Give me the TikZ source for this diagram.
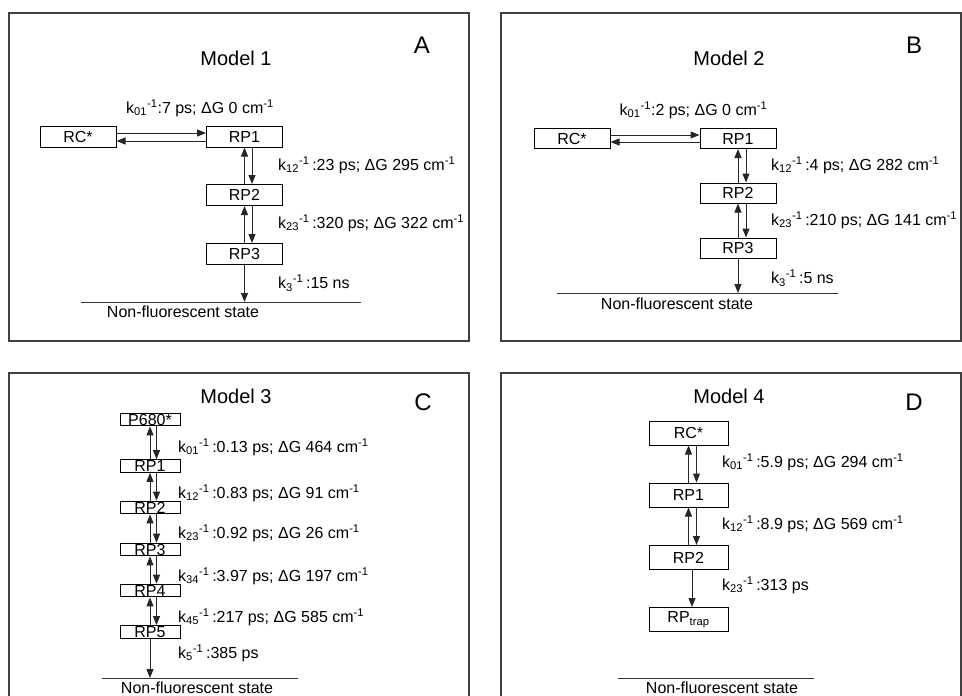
\documentclass[tikz,border=0pt]{standalone}
\usepackage{fontspec}
\setmainfont{Liberation Sans}
\usetikzlibrary{arrows.meta, positioning}

\newcommand{\lbl}{\fontsize{16}{19}\selectfont}
\newcommand{\ttl}{\fontsize{20}{24}\selectfont}
\newcommand{\ltr}{\fontsize{24}{28}\selectfont}
\newcommand{\krate}[1]{k\textsubscript{#1}\textsuperscript{-1}}

\tikzset{
	panel/.style={draw=black!75, line width=1.4pt},
	state/.style={draw, line width=1pt, minimum width=76pt, minimum height=20pt, inner sep=0pt, font=\lbl},
	bigstate/.style={state, minimum width=79pt, minimum height=24pt},
	smallstate/.style={draw, line width=1pt, minimum width=60pt, inner xsep=0pt, inner ysep=0.6pt, text height=11.5pt, text depth=0pt, font=\lbl},
	rate/.style={anchor=west, inner sep=0pt, font=\lbl},
	arr/.style={-{Triangle[length=9pt,width=7pt]}, line width=1pt, black!85},
	baseline/.style={line width=1pt, black!80},
	nftext/.style={font=\lbl, inner sep=0pt},
	title/.style={font=\ttl},
	letter/.style={font=\ltr},
}

\begin{document}
\begin{tikzpicture}[x=1pt, y=-1pt]
	\useasboundingbox (0,0) rectangle (962,696);
	
	% A: Model 1
	\draw[panel] (9,13) rectangle (469,341);
	\node[letter] (labA) at (422,45) {A};
	\node[title] (titA) at (236,58) {Model 1};
	\node[rate, anchor=center] (ak01) at (200,108) {\krate{01}:7 ps; ΔG 0 cm\textsuperscript{-1}};
	\node[state, minimum height=21pt] (aRC) at (78,136.5) {RC*};
	\node[state, minimum height=21pt] (aRP1) at (244.5,136.5) {RP1};
	\node[state, minimum height=21pt] (aRP2) at (244.5,195) {RP2};
	\node[state, minimum height=21pt] (aRP3) at (244.5,254) {RP3};
	\draw[arr] ([yshift=3.5pt]aRC.east) -- ([yshift=3.5pt]aRP1.west);
	\draw[arr] ([yshift=-4.5pt]aRP1.west) -- ([yshift=-4.5pt]aRC.east);
	\draw[arr] (aRP2.north) -- (aRP1.south);
	\draw[arr] ([xshift=7.5pt]aRP1.south) -- ([xshift=7.5pt]aRP2.north);
	\draw[arr] (aRP3.north) -- (aRP2.south);
	\draw[arr] ([xshift=7.5pt]aRP2.south) -- ([xshift=7.5pt]aRP3.north);
	\node[rate] (ak12) at (278,165) {\krate{12}\,:23 ps; ΔG 295 cm\textsuperscript{-1}};
	\node[rate] (ak23) at (278,223) {\krate{23}\,:320 ps; ΔG 322 cm\textsuperscript{-1}};
	\node[rate] (ak3) at (278,283) {\krate{3}\,:15 ns};
	\coordinate (aNF) at (244.5,302);
	\draw[arr] (aRP3.south) -- (aNF);
	\draw[baseline] (81,302) -- (361,302);
	\node[nftext] (aNFt) at (183,312) {Non-fluorescent state};
	
	% B: Model 2
	\draw[panel] (501,13) rectangle (961,341);
	\node[letter] (labB) at (914,45) {B};
	\node[title] (titB) at (729,58) {Model 2};
	\node[rate, anchor=center] (bk01) at (693.5,110) {\krate{01}:2 ps; ΔG 0 cm\textsuperscript{-1}};
	\node[state] (bRC) at (572,138.5) {RC*};
	\node[state] (bRP1) at (738,138.5) {RP1};
	\node[state] (bRP2) at (738,193) {RP2};
	\node[state] (bRP3) at (738,248) {RP3};
	\draw[arr] ([yshift=3.5pt]bRC.east) -- ([yshift=3.5pt]bRP1.west);
	\draw[arr] ([yshift=-3.5pt]bRP1.west) -- ([yshift=-3.5pt]bRC.east);
	\draw[arr] (bRP2.north) -- (bRP1.south);
	\draw[arr] ([xshift=8pt]bRP1.south) -- ([xshift=8pt]bRP2.north);
	\draw[arr] (bRP3.north) -- (bRP2.south);
	\draw[arr] ([xshift=8pt]bRP2.south) -- ([xshift=8pt]bRP3.north);
	\node[rate] (bk12) at (771,165) {\krate{12}\,:4 ps; ΔG 282 cm\textsuperscript{-1}};
	\node[rate] (bk23) at (771,220) {\krate{23}\,:210 ps; ΔG 141 cm\textsuperscript{-1}};
	\node[rate] (bk3) at (771,278) {\krate{3}\,:5 ns};
	\coordinate (bNF) at (738,293);
	\draw[arr] (bRP3.south) -- (bNF);
	\draw[baseline] (557,293) -- (838,293);
	\node[nftext] (bNFt) at (677,304) {Non-fluorescent state};
	
	% C: Model 3
	\draw[panel] (9,697) -- (9,373) -- (469,373) -- (469,697);
	\node[letter] (labC) at (423,402) {C};
	\node[title] (titC) at (236,396) {Model 3};
	\node[smallstate] (cP) at (150,419.5) {P680*};
	\node[smallstate] (cRP1) at (150,466) {RP1};
	\node[smallstate] (cRP2) at (150,507.5) {RP2};
	\node[smallstate] (cRP3) at (150,549.5) {RP3};
	\node[smallstate] (cRP4) at (150,590.5) {RP4};
	\node[smallstate] (cRP5) at (150,632) {RP5};
	\foreach \a/\b in {cP/cRP1, cRP1/cRP2, cRP2/cRP3, cRP3/cRP4, cRP4/cRP5}{
		\draw[arr] (\b.north) -- (\a.south);
		\draw[arr] ([xshift=6.5pt]\a.south) -- ([xshift=6.5pt]\b.north);
	}
	\node[rate] (ck01) at (178,447) {\krate{01}\,:0.13 ps; ΔG 464 cm\textsuperscript{-1}};
	\node[rate] (ck12) at (178,493) {\krate{12}\,:0.83 ps; ΔG 91 cm\textsuperscript{-1}};
	\node[rate] (ck23) at (178,533) {\krate{23}\,:0.92 ps; ΔG 26 cm\textsuperscript{-1}};
	\node[rate] (ck34) at (178,576) {\krate{34}\,:3.97 ps; ΔG 197 cm\textsuperscript{-1}};
	\node[rate] (ck45) at (178,617) {\krate{45}\,:217 ps; ΔG 585 cm\textsuperscript{-1}};
	\node[rate] (ck5) at (178,653) {\krate{5}\,:385 ps};
	\coordinate (cNF) at (150,678);
	\draw[arr] (cRP5.south) -- (cNF);
	\draw[baseline] (102,678) -- (298,678);
	\node[nftext] (cNFt) at (197,687.5) {Non-fluorescent state};
	
	% D: Model 4
	\draw[panel] (501,697) -- (501,373) -- (961,373) -- (961,697);
	\node[letter] (labD) at (914,402) {D};
	\node[title] (titD) at (729,396) {Model 4};
	\node[bigstate] (dRC) at (688.5,433) {RC*};
	\node[bigstate] (dRP1) at (688.5,495) {RP1};
	\node[bigstate] (dRP2) at (688.5,557.5) {RP2};
	\node[bigstate] (dRPt) at (688.5,619.5) {RP\textsubscript{trap}};
	\draw[arr] (dRP1.north) -- (dRC.south);
	\draw[arr] ([xshift=8pt]dRC.south) -- ([xshift=8pt]dRP1.north);
	\draw[arr] (dRP2.north) -- (dRP1.south);
	\draw[arr] ([xshift=8pt]dRP1.south) -- ([xshift=8pt]dRP2.north);
	\draw[arr] ([xshift=3.5pt]dRP2.south) -- ([xshift=3.5pt]dRPt.north);
	\node[rate] (dk01) at (722,462) {\krate{01}\,:5.9 ps; ΔG 294 cm\textsuperscript{-1}};
	\node[rate] (dk12) at (722,524) {\krate{12}\,:8.9 ps; ΔG 569 cm\textsuperscript{-1}};
	\node[rate] (dk23) at (722,585) {\krate{23}\,:313 ps};
	\draw[baseline] (618,678) -- (814,678);
	\node[nftext] (dNFt) at (722,687.5) {Non-fluorescent state};
\end{tikzpicture}
\end{document}
